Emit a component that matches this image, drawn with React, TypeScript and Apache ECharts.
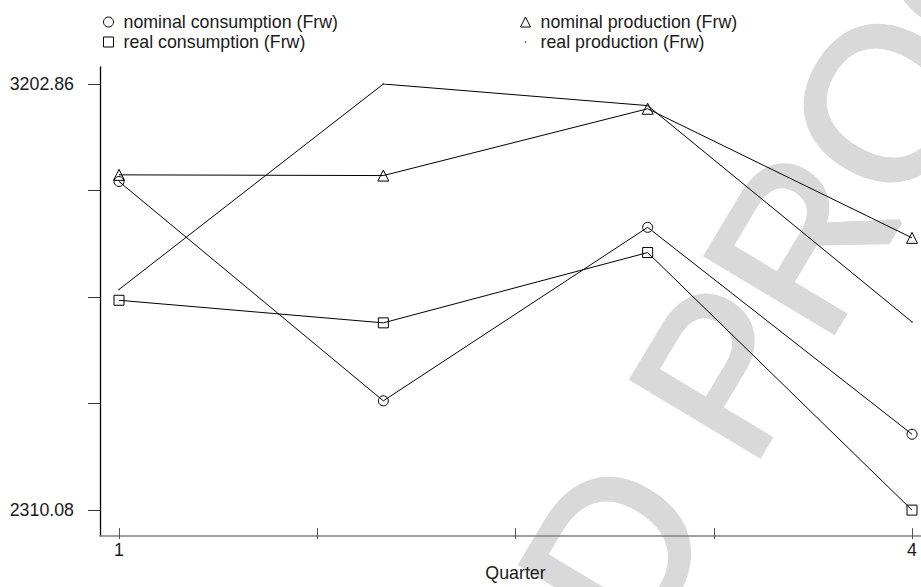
import React, { useEffect, useRef } from "react";
import * as echarts from "echarts";

const quarters = [1, 2, 3, 4];
const nominalConsumption = [2998.6, 2539.0, 2902.5, 2469.0];
const realConsumption = [2749.7, 2702.4, 2849.7, 2310.08];
const nominalProduction = [3012.5, 3011.0, 3151.0, 2880.5];
const realProduction = [2772.3, 3202.86, 3157.6, 2704.4];

const seriesNames = [
  "nominal consumption (Frw)",
  "real consumption (Frw)",
  "nominal production (Frw)",
  "real production (Frw)",
];

const yMin = 2310.08;
const yMax = 3202.86;
const yTickValues = [2310.08, 2533.275, 2756.47, 2979.665, 3202.86];
const yLabelValues = [2310.08, 3202.86];
const xTickValues = [1, 1.75, 2.5, 3.25, 4];
const xLabelValues = [1, 4];
const watermarkText = "D PROOF";

const FONT = '"Liberation Sans", Arial, Helvetica, sans-serif';
const TEXT = "#1a1a1a";
const FS = 17.8;

const toPairs = (vals: number[]) => quarters.map((q, i) => [q, vals[i]]);

const dotIcon =
  "image://data:image/svg+xml;utf8," +
  encodeURIComponent(
    "<svg xmlns='http://www.w3.org/2000/svg' width='10' height='10'><rect x='4.3' y='4.3' width='1.4' height='1.4' fill='#333'/></svg>"
  );

const hollow = { color: "rgba(0,0,0,0)", borderColor: "#000", borderWidth: 1 };

export default function App() {
  const ref = useRef<HTMLDivElement>(null);

  useEffect(() => {
    if (!ref.current) return;
    document.body.style.margin = "0";
    const chart = echarts.init(ref.current, null, { renderer: "svg" });

    const lineSeries = (name: string, vals: number[], symbol: string, size: number, filled = false) => ({
      type: "line",
      name,
      xAxisIndex: 1,
      yAxisIndex: 1,
      data: toPairs(vals),
      symbol,
      symbolSize: size,
      showSymbol: true,
      lineStyle: { color: "#000", width: 1 },
      itemStyle: filled ? { color: "#333", borderWidth: 0 } : hollow,
      emphasis: { disabled: true },
      z: 3,
    });

    const theta = (59 * Math.PI) / 180;

    const legendText = {
      fontSize: FS,
      lineHeight: 18,
      color: TEXT,
      fontFamily: FONT,
      padding: [0, 0, 0, 5],
    };

    chart.setOption({
      animation: false,
      backgroundColor: "#fff",
      textStyle: { fontFamily: FONT },
      graphic: [
        {
          type: "text",
          x: 575,
          y: 617,
          rotation: theta,
          z: -10,
          silent: true,
          style: {
            text: watermarkText,
            x: 0,
            y: 0,
            font: '216px "Liberation Sans", Arial, sans-serif',
            fill: "#d9d9d9",
            stroke: "#d9d9d9",
            lineWidth: 5,
            textAlign: "left",
            textVerticalAlign: "middle",
          },
        },
      ],
      legend: [
        {
          orient: "vertical",
          left: 103,
          top: 13,
          padding: 0,
          itemWidth: 10,
          itemHeight: 10,
          itemGap: 2,
          selectedMode: false,
          textStyle: legendText,
          data: [
            { name: seriesNames[0], icon: "circle", itemStyle: hollow },
            { name: seriesNames[1], icon: "rect", itemStyle: hollow },
          ],
        },
        {
          orient: "vertical",
          left: 520,
          top: 13,
          padding: 0,
          itemWidth: 10,
          itemHeight: 10,
          itemGap: 2,
          selectedMode: false,
          textStyle: legendText,
          data: [
            { name: seriesNames[2], icon: "triangle", itemStyle: hollow },
            { name: seriesNames[3], icon: dotIcon },
          ],
        },
      ],
      grid: [
        { left: 100, right: 0, top: 67, bottom: 51, containLabel: false },
        { left: 119, right: 9, top: 84, bottom: 69, containLabel: false },
      ],
      xAxis: [
        {
          type: "value",
          gridIndex: 0,
          min: 0,
          max: 1,
          axisLine: { show: true, lineStyle: { color: "#808080", width: 1.5 } },
          axisTick: { show: false },
          axisLabel: { show: false },
          splitLine: { show: false },
        },
        {
          type: "value",
          gridIndex: 1,
          min: 1,
          max: 4,
          offset: 18,
          name: "Quarter",
          nameLocation: "middle",
          nameGap: 35,
          nameTextStyle: { fontSize: FS, lineHeight: 16, color: TEXT, fontFamily: FONT },
          axisLine: { show: false },
          axisTick: {
            show: true,
            length: 11,
            customValues: xTickValues,
            lineStyle: { color: "#555", width: 1 },
          },
          axisLabel: {
            show: true,
            margin: 13,
            customValues: xLabelValues,
            fontSize: FS,
            color: TEXT,
            fontFamily: FONT,
            formatter: (v: number) => String(v),
          },
          splitLine: { show: false },
        },
      ],
      yAxis: [
        {
          type: "value",
          gridIndex: 0,
          min: 0,
          max: 1,
          axisLine: { show: true, lineStyle: { color: "#000", width: 1.3 } },
          axisTick: { show: false },
          axisLabel: { show: false },
          splitLine: { show: false },
        },
        {
          type: "value",
          gridIndex: 1,
          min: yMin,
          max: yMax,
          offset: 19,
          axisLine: { show: false },
          axisTick: {
            show: true,
            length: 12,
            customValues: yTickValues,
            lineStyle: { color: "#333", width: 1 },
          },
          axisLabel: {
            show: true,
            margin: 26,
            customValues: yLabelValues,
            fontSize: FS,
            color: TEXT,
            fontFamily: FONT,
            formatter: (v: number) => v.toFixed(2),
          },
          splitLine: { show: false },
        },
      ],
      series: [
        lineSeries(seriesNames[0], nominalConsumption, "circle", 10),
        lineSeries(seriesNames[1], realConsumption, "rect", 10),
        lineSeries(seriesNames[2], nominalProduction, "triangle", 11),
        lineSeries(seriesNames[3], realProduction, "circle", 1.5, true),
      ],
    });

    return () => chart.dispose();
  }, []);

  return <div ref={ref} style={{ width: 921, height: 587 }} />;
}
